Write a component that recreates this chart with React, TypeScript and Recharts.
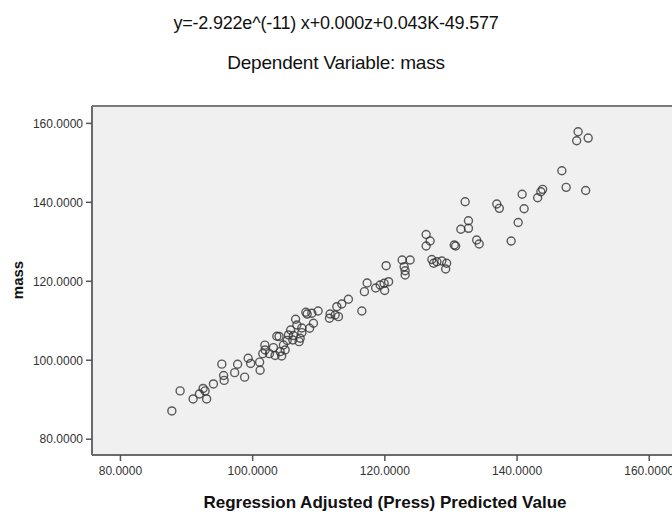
import React from 'react';
import { ScatterChart, Scatter, XAxis, YAxis, CartesianGrid, ReferenceLine } from 'recharts';

const predicted = [
  87.78, 89.03, 91.0, 91.95, 92.51, 92.81, 93.04, 94.07, 95.34, 95.61,
  95.69, 97.28, 97.73, 98.79, 99.32, 99.7, 101.13, 101.06, 101.85, 101.54,
  102.54, 103.4, 103.15, 103.66, 104.0, 104.16, 104.39, 104.66, 104.92, 105.22,
  105.42, 105.75, 106.17, 106.08, 106.5, 106.69, 107.03, 107.19, 107.44, 107.44,
  108.05, 108.25, 108.62, 108.96, 109.2, 109.91, 111.62, 111.72, 112.48, 112.74,
  112.98, 113.49, 114.49, 116.52, 116.91, 117.32, 118.61, 119.29, 119.89, 119.97,
  120.57, 120.2, 122.62, 122.92, 123.07, 123.07, 123.83, 126.25, 126.85, 126.25,
  127.11, 127.38, 127.87, 128.62, 129.35, 129.2, 130.71, 130.5, 132.15, 132.65,
  131.5, 132.65, 133.89, 134.27, 136.94, 137.32, 139.11, 140.17, 140.77, 141.07,
  143.12, 143.6, 143.87, 146.78, 147.43, 150.38, 149.24, 149.02, 150.76, 101.89,
];

const mass = [
  87.16, 92.23, 90.2, 91.47, 92.86, 92.23, 90.2, 94.0, 99.01, 96.15,
  94.89, 96.86, 98.99, 95.72, 100.51, 99.19, 97.47, 99.52, 103.82, 101.67,
  101.67, 101.22, 103.19, 106.08, 106.03, 102.18, 101.09, 103.87, 102.61, 105.01,
  106.41, 107.67, 106.28, 105.14, 110.38, 108.94, 104.71, 105.57, 108.18, 106.99,
  112.15, 111.7, 108.1, 111.9, 109.37, 112.48, 110.63, 111.72, 111.47, 113.57,
  111.04, 114.25, 115.44, 112.48, 117.37, 119.57, 118.3, 119.06, 119.49, 117.67,
  119.9, 123.95, 125.39, 123.7, 122.68, 121.59, 125.39, 131.85, 130.2, 128.94,
  125.52, 124.56, 124.96, 125.14, 124.56, 123.11, 128.94, 129.2, 140.15, 135.34,
  133.19, 133.42, 130.46, 129.44, 139.57, 138.48, 130.2, 134.89, 142.05, 138.38,
  141.16, 142.68, 143.29, 148.0, 143.8, 142.99, 157.87, 155.59, 156.28, 102.61,
];

const axisTicks = [80, 100, 120, 140, 160];

const titleText = 'y=-2.922e^(-11) x+0.000z+0.043K-49.577';
const subtitleText = 'Dependent Variable: mass';
const xLabel = 'Regression Adjusted (Press) Predicted Value';
const yLabel = 'mass';

const points = predicted.map((p, i) => ({ pred: p, mass: mass[i] }));

const FONT = '"Liberation Sans", Arial, sans-serif';

const Ring = (props: any) => {
  const { cx, cy } = props;
  if (cx == null || cy == null) return null;
  return (
    <circle cx={cx} cy={cy} r={4} fill="none" stroke="#333" strokeWidth={1.4} strokeOpacity={0.8} />
  );
};

export default function App() {
  return (
    <div style={{ position: 'absolute', left: 0, top: 0, width: 672, height: 514, overflow: 'hidden', background: '#fff', fontFamily: FONT }}>
      <div style={{ position: 'absolute', left: 0, width: 672, top: 12, textAlign: 'center', fontSize: 18, color: '#111', lineHeight: '22px', letterSpacing: '-0.2px' }}>
        {titleText}
      </div>
      <div style={{ position: 'absolute', left: 0, width: 672, top: 52, textAlign: 'center', fontSize: 19, color: '#111', lineHeight: '22px', letterSpacing: '-0.2px' }}>
        {subtitleText}
      </div>
      <div style={{ position: 'absolute', left: 0, top: 0 }}>
        <ScatterChart width={700} height={514} margin={{ top: 106, right: 22, bottom: 0, left: 0 }}>
          <CartesianGrid fill="#f0f0f0" stroke="none" horizontal={false} vertical={false} />
          <XAxis
            type="number"
            dataKey="pred"
            domain={[75.7, 164.35]}
            ticks={axisTicks}
            allowDataOverflow
            height={59}
            tickSize={6}
            tickMargin={5}
            tickFormatter={(v: number) => v.toFixed(4)}
            axisLine={{ stroke: '#6a6a6a', strokeWidth: 2 }}
            tickLine={{ stroke: '#555', strokeWidth: 1.5 }}
            tick={{ fill: '#333', fontSize: 12, fontFamily: FONT }}
          />
          <YAxis
            type="number"
            dataKey="mass"
            domain={[76, 164.4]}
            ticks={axisTicks}
            allowDataOverflow
            width={92}
            tickSize={6}
            tickMargin={3}
            tickFormatter={(v: number) => v.toFixed(4)}
            axisLine={{ stroke: '#6a6a6a', strokeWidth: 2 }}
            tickLine={{ stroke: '#555', strokeWidth: 1.5 }}
            tick={{ fill: '#333', fontSize: 12, fontFamily: FONT }}
          />
          <ReferenceLine y={164.4} stroke="#7a7a7a" strokeWidth={2} />
          <Scatter data={points} shape={Ring} isAnimationActive={false} />
        </ScatterChart>
      </div>
      <div style={{ position: 'absolute', left: 92, width: 586, top: 492, textAlign: 'center', fontSize: 17, fontWeight: 'bold', color: '#111', lineHeight: '22px' }}>
        {xLabel}
      </div>
      <div style={{ position: 'absolute', left: 18, top: 280, transform: 'translate(-50%, -50%) rotate(-90deg)', fontSize: 15, fontWeight: 'bold', color: '#111', lineHeight: '18px', whiteSpace: 'nowrap' }}>
        {yLabel}
      </div>
    </div>
  );
}
